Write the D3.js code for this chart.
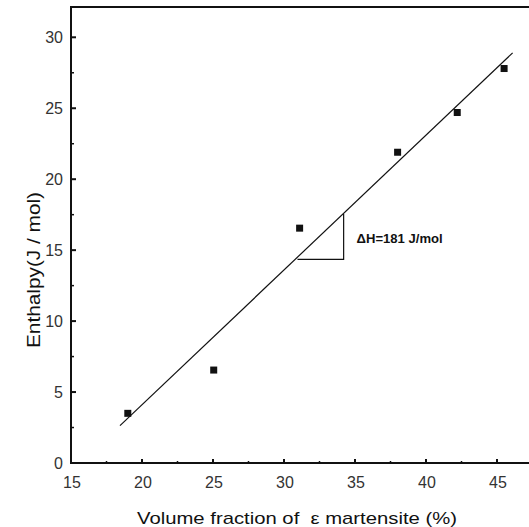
<!DOCTYPE html>
<html>
<head>
<meta charset="utf-8">
<script src="https://d3js.org/d3.v7.min.js"></script>
<style>
  body { margin: 0; background: #fff; }
  .tick-label { font-family: "Liberation Sans", Arial, sans-serif; font-size: 16px; fill: #333; }
  .title { font-family: "Liberation Sans", Arial, sans-serif; font-size: 17px; fill: #111; white-space: pre; }
  .note { font-family: "Liberation Sans", Arial, sans-serif; font-size: 12px; font-weight: bold; fill: #111; }
</style>
</head>
<body>
<div id="box"></div>
<script>
// measured points
var fraction = [19, 25.05, 31.1, 38, 42.2, 45.5];
var enthalpy = [3.5, 6.55, 16.55, 21.9, 24.7, 27.8];
// fitted line end points
var fitX = [18.45, 46.1];
var fitY = [2.63, 28.9];
// slope triangle
var triX = [30.95, 34.2];
var triY = [14.35, 17.55];
var xTicks = [15, 20, 25, 30, 35, 40, 45];
var yTicks = [0, 5, 10, 15, 20, 25, 30];

var W = 529, H = 527;
var svg = d3.select('#box').append('svg').attr('width', W).attr('height', H);

var x = d3.scaleLinear().domain([15, 45]).range([71, 497]);
var y = d3.scaleLinear().domain([0, 30]).range([463, 37.3]);

var axLeft = x(15), axBottom = y(0), axTop = 7;

// frame: left axis, bottom axis, top border
svg.append('path')
  .attr('d', `M${W} ${axTop} H${axLeft} V${axBottom} H${W}`)
  .attr('fill', 'none').attr('stroke', '#111').attr('stroke-width', 2);

// y ticks (inward)
var yMinor = d3.range(2.5, 32, 5);
svg.selectAll('.ytick').data(yTicks).enter().append('line')
  .attr('x1', axLeft).attr('x2', axLeft + 5)
  .attr('y1', d => y(d)).attr('y2', d => y(d))
  .attr('stroke', '#111').attr('stroke-width', 2);
svg.selectAll('.yminor').data(yMinor).enter().append('line')
  .attr('x1', axLeft).attr('x2', axLeft + 3)
  .attr('y1', d => y(d)).attr('y2', d => y(d))
  .attr('stroke', '#111').attr('stroke-width', 1.5);
svg.selectAll('.ylab').data(yTicks).enter().append('text')
  .attr('class', 'tick-label')
  .attr('x', axLeft - 8).attr('y', d => y(d) + 6)
  .attr('text-anchor', 'end')
  .text(d => d);

// x ticks (inward)
var xMinor = d3.range(17.5, 48, 5);
svg.selectAll('.xtick').data(xTicks.slice(1)).enter().append('line')
  .attr('x1', d => x(d)).attr('x2', d => x(d))
  .attr('y1', axBottom).attr('y2', axBottom - 4)
  .attr('stroke', '#111').attr('stroke-width', 2);
svg.selectAll('.xminor').data(xMinor).enter().append('line')
  .attr('x1', d => x(d)).attr('x2', d => x(d))
  .attr('y1', axBottom).attr('y2', axBottom - 2)
  .attr('stroke', '#111').attr('stroke-width', 1.5);
svg.selectAll('.xlab').data(xTicks).enter().append('text')
  .attr('class', 'tick-label')
  .attr('x', d => x(d) + 1).attr('y', axBottom + 25)
  .attr('text-anchor', 'middle')
  .text(d => d);

// fitted line
svg.append('line')
  .attr('x1', x(fitX[0])).attr('y1', y(fitY[0]))
  .attr('x2', x(fitX[1])).attr('y2', y(fitY[1]))
  .attr('stroke', '#111').attr('stroke-width', 1.2);

// slope triangle
svg.append('path')
  .attr('d', `M${x(triX[0])} ${y(triY[0])} H${x(triX[1])} V${y(triY[1])}`)
  .attr('fill', 'none').attr('stroke', '#111').attr('stroke-width', 1.2);
svg.append('text').attr('class', 'note')
  .attr('x', x(triX[1]) + 13).attr('y', y(triY[0]) - 16)
  .attr('textLength', 86).attr('lengthAdjust', 'spacingAndGlyphs')
  .text('ΔH=181 J/mol');

// data squares
svg.selectAll('.pt').data(fraction).enter().append('rect')
  .attr('x', d => x(d) - 3.5)
  .attr('y', (d, i) => y(enthalpy[i]) - 3.5)
  .attr('width', 7).attr('height', 7)
  .attr('fill', '#111');

// axis titles
svg.append('text').attr('class', 'title')
  .attr('x', 297).attr('y', 524)
  .attr('text-anchor', 'middle')
  .attr('textLength', 320).attr('lengthAdjust', 'spacingAndGlyphs')
  .text('Volume fraction of  ε martensite (%)');
svg.append('text').attr('class', 'title')
  .style('font-size', '18px')
  .attr('transform', 'translate(40,270) rotate(-90)')
  .attr('text-anchor', 'middle')
  .attr('textLength', 156).attr('lengthAdjust', 'spacingAndGlyphs')
  .text('Enthalpy(J / mol)');
</script>
</body>
</html>
